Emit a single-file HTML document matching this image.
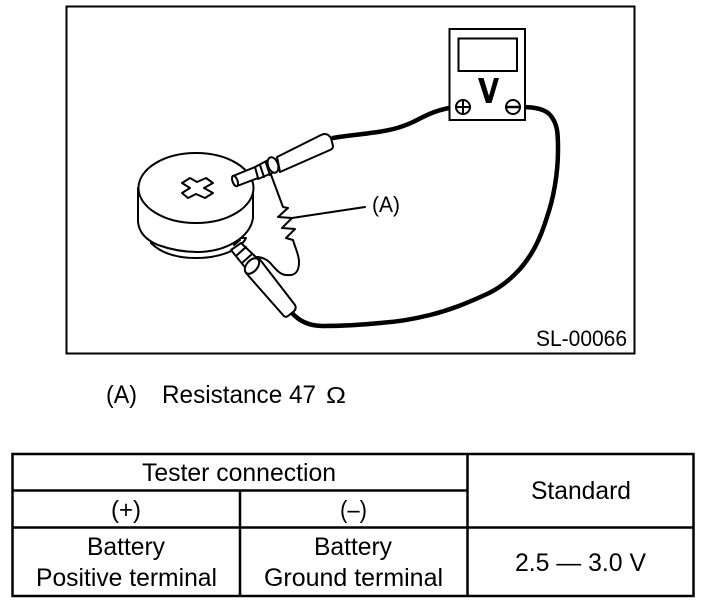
<!DOCTYPE html>
<html>
<head>
<meta charset="utf-8">
<style>
html,body{margin:0;padding:0;background:#fff;width:704px;height:602px;overflow:hidden}
svg{display:block}
text{font-family:"Liberation Sans",sans-serif;fill:#000;font-size:25px}
.l{fill:#fff;stroke:#000;stroke-width:2;stroke-linejoin:round;stroke-linecap:round}
.n{fill:none;stroke:#000;stroke-width:2;stroke-linejoin:round;stroke-linecap:round}
.w{fill:none;stroke:#000;stroke-width:4.500;stroke-linecap:round;stroke-linejoin:round}
</style>
</head>
<body>
<svg width="704" height="602" viewBox="0 0 704 602" xmlns="http://www.w3.org/2000/svg">
<rect x="66.500" y="6.500" width="568" height="347" fill="#fff" stroke="#000" stroke-width="2"/>

<!-- wires -->
<path class="w" d="M333 138 C350 135 358 135 370 133 C388 131 400 128 413 122 C425 116 437 109 456 107"/>
<path class="w" d="M521 107 C535 107 546 109 551 116 C558 125 558 135 558 150 C558 175 553 200 547 217 C540 240 532 255 520 269 C510 280 500 288 487 294 C465 304 450 310 430 315 C410 320 395 322 380 323 C360 325 340 326 323 326 C310 326 300 322 292 313"/>

<!-- battery -->
<path class="l" d="M151 243 C160 252 175 258 196 258 C220 258 240 250 246 238 L151 238 Z"/>
<path class="l" d="M138 188 L138 222 C139 232 146 240 158 245 C172 250 185 252 197 252 C225 252 250 238 253 218 L253 188 Z"/>
<ellipse class="l" cx="196" cy="188" rx="57.500" ry="35"/>
<polygon class="n" points="182,183 190,178 197,182 206,178 213,183 204,188 213,193 205,198 196,194 188,198 182,193 190,188"/>

<!-- resistor -->
<path class="n" d="M270 172 L283 207 L288 208 L278 217 L292 218 L282 228 L295 229 L286 238 L293 240 C296 250 299 255 299 262 C299 270 296 275 290 275 C282 276 278 272 272 265 C268 260 263 257 256 257"/>
<path class="n" d="M292 218 L365 207"/>

<!-- upper probe -->
<path class="l" d="M277 157 L321 135 Q327 132 331 138 L333 146 Q333 149 330 150 L280 172 Z"/>
<path class="l" d="M255 167 L272 158 C278 158 280 170 277 171 L258 179 Z"/>
<ellipse class="l" cx="273" cy="165" rx="5" ry="8" transform="rotate(-20 273 165)"/>
<path class="n" d="M260 165 L264 177 M266 163 L270 175"/>
<path class="l" d="M233 176 L255 167 L258 178 L237 186 Z"/>
<ellipse class="l" cx="235" cy="181" rx="2.500" ry="5.500" transform="rotate(-20 235 181)"/>

<!-- lower probe -->
<path class="l" d="M258 257 L295 305 Q297 309 293 312 L288 316 Q285 318 283 315 L246 273 Z"/>
<path class="l" d="M231 250 L241 243 L259 260 L248 271 Z"/>
<path class="n" d="M236 256 L246 247 M242 263 L252 254"/>
<ellipse class="l" cx="252" cy="266" rx="5.500" ry="9" transform="rotate(40 252 266)"/>
<path class="n" d="M234 245 L240 240"/>

<!-- meter -->
<rect x="449.500" y="29" width="75.500" height="91" fill="#fff" stroke="#000" stroke-width="2"/>
<rect x="458.500" y="38.500" width="58.500" height="32.500" fill="#fff" stroke="#000" stroke-width="2"/>
<path d="M478 78 L483.500 78 L489 96 L494 78 L499 78 L491.500 103 L486 103 Z" fill="#000"/>
<circle cx="463" cy="107" r="7" fill="#fff" stroke="#000" stroke-width="2"/>
<path d="M463 101 V113 M457 107 H469" stroke="#000" stroke-width="2"/>
<circle cx="513" cy="107" r="7" fill="#fff" stroke="#000" stroke-width="2"/>
<path d="M507 107 H520" stroke="#000" stroke-width="2.500"/>

<text x="372" y="212" style="font-size:22px" textLength="28" lengthAdjust="spacingAndGlyphs">(A)</text>
<text x="536" y="346" style="font-size:22px" textLength="91" lengthAdjust="spacingAndGlyphs">SL-00066</text>

<text x="106" y="403" textLength="31" lengthAdjust="spacingAndGlyphs">(A)</text>
<text x="162" y="403" textLength="154" lengthAdjust="spacingAndGlyphs">Resistance 47</text>
<text x="326" y="403" style="font-size:23px" textLength="20" lengthAdjust="spacingAndGlyphs">Ω</text>

<!-- table -->
<g fill="none" stroke="#000" stroke-width="2.500">
<rect x="12.500" y="454" width="681" height="142"/>
<path d="M12.500 490.500 H467 M12.500 527.500 H693 M467.500 454 V596 M240 490.500 V596"/>
</g>
<text x="142" y="481" textLength="194" lengthAdjust="spacingAndGlyphs">Tester connection</text>
<text x="531" y="499" textLength="100" lengthAdjust="spacingAndGlyphs">Standard</text>
<text x="111" y="518" textLength="30" lengthAdjust="spacingAndGlyphs">(+)</text>
<text x="340" y="518" textLength="27" lengthAdjust="spacingAndGlyphs">(–)</text>
<text x="87" y="555" textLength="78" lengthAdjust="spacingAndGlyphs">Battery</text>
<text x="36" y="586" textLength="181" lengthAdjust="spacingAndGlyphs">Positive terminal</text>
<text x="314" y="555" textLength="78" lengthAdjust="spacingAndGlyphs">Battery</text>
<text x="264" y="586" textLength="179" lengthAdjust="spacingAndGlyphs">Ground terminal</text>
<text x="515" y="571" textLength="131" lengthAdjust="spacingAndGlyphs">2.5 — 3.0 V</text>
</svg>
</body>
</html>
